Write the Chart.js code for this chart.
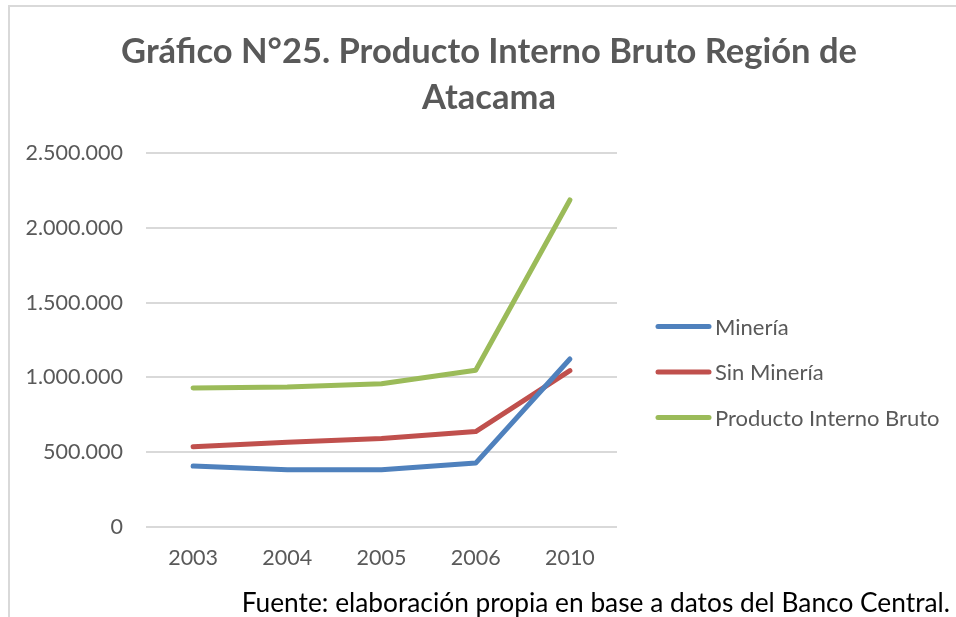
<!DOCTYPE html>
<html>
<head>
<meta charset="utf-8">
<script src="https://cdn.jsdelivr.net/npm/chart.js@4.4.1/dist/chart.umd.min.js"></script>
<style>
  html, body { margin: 0; padding: 0; background: #ffffff; }
  #wrap { position: relative; width: 956px; height: 617px; overflow: hidden; }
  #frame { position: absolute; left: 8px; top: 5px; width: 1000px; height: 700px;
           border-left: 2px solid #d9d9d9; border-top: 2px solid #d9d9d9; }
  #cv { position: absolute; left: 0; top: 0; }
  #footer { position: absolute; right: 6px; top: 589px; font-family: Lato, "Open Sans", sans-serif;
            font-size: 26.3px; color: #000; white-space: nowrap; line-height: 26px; }
</style>
</head>
<body>
<div id="wrap">
  <div id="frame"></div>
  <canvas id="cv" width="956" height="617"></canvas>
  <div id="footer">Fuente: elaboración propia en base a datos del Banco Central.</div>
</div>
<script>
const categories = ['2003', '2004', '2005', '2006', '2010'];
const mineria = [407000, 382000, 382000, 427000, 1123000];
const sinMineria = [536000, 567000, 591000, 638000, 1045000];
const pib = [929000, 936000, 958000, 1048000, 2186000];
const seriesNames = ['Minería', 'Sin Minería', 'Producto Interno Bruto'];
const titleLines = ['Gráfico N°25. Producto Interno Bruto Región de', 'Atacama'];
const yTicks = [0, 500000, 1000000, 1500000, 2000000, 2500000];

function fmt(v) {
  return String(Math.round(v)).replace(/\B(?=(\d{3})+(?!\d))/g, '.');
}

const FONT = 'Lato, "Open Sans", sans-serif';
const GREY = '#595959';

function ds(label, data, color) {
  return {
    label, data,
    borderColor: color, backgroundColor: color,
    borderWidth: 5, pointRadius: 0, pointHoverRadius: 0,
    tension: 0, borderCapStyle: 'round', borderJoinStyle: 'round', fill: false
  };
}

// Legend drawn to the right of the plot area, from the chart's own datasets.
const sideLegend = {
  id: 'sideLegend',
  afterDraw(chart) {
    const ctx = chart.ctx;
    const a = chart.chartArea;
    const x0 = a.right + 39;
    const lineW = 55;
    const gap = 45.5;
    const midY = (a.top + a.bottom) / 2 + 32;
    const n = chart.data.datasets.length;
    ctx.save();
    ctx.font = '22px ' + FONT;
    ctx.textBaseline = 'middle';
    ctx.textAlign = 'left';
    chart.data.datasets.forEach((d, i) => {
      const y = midY + (i - (n - 1) / 2) * gap;
      ctx.strokeStyle = d.borderColor;
      ctx.lineWidth = 5;
      ctx.lineCap = 'round';
      ctx.beginPath();
      ctx.moveTo(x0 + 2, y);
      ctx.lineTo(x0 + lineW - 2, y);
      ctx.stroke();
      ctx.fillStyle = GREY;
      ctx.fillText(d.label, x0 + lineW + 4, y + 1);
    });
    ctx.restore();
  }
};

new Chart(document.getElementById('cv'), {
  type: 'line',
  data: {
    labels: categories,
    datasets: [
      ds(seriesNames[0], mineria, '#4F81BD'),
      ds(seriesNames[1], sinMineria, '#C0504D'),
      ds(seriesNames[2], pib, '#9BBB59')
    ]
  },
  plugins: [sideLegend],
  options: {
    responsive: false,
    animation: false,
    devicePixelRatio: 1,
    layout: { padding: { left: 22, right: 0, top: 0, bottom: 46 } },
    plugins: {
      tooltip: { enabled: false },
      legend: { display: false },
      title: {
        display: true,
        text: titleLines,
        color: GREY,
        fullSize: true,
        font: { family: FONT, size: 34.5, weight: 'bold', lineHeight: 1.333 },
        padding: { top: 29, bottom: 32 }
      }
    },
    scales: {
      x: {
        offset: true,
        afterFit: (s) => { s.height = 44; },
        grid: { display: false, drawTicks: false },
        border: { display: false },
        ticks: { color: GREY, padding: 18, font: { family: FONT, size: 21.5 } }
      },
      y: {
        min: 0, max: 2500000,
        afterFit: (s) => { s.width = 124; },
        afterBuildTicks: (s) => { s.ticks = yTicks.map(v => ({ value: v })); },
        grid: { color: '#d9d9d9', lineWidth: 2, drawTicks: false },
        border: { display: false },
        ticks: { color: GREY, padding: 23, font: { family: FONT, size: 21.5 }, callback: (v) => fmt(v) }
      },
      legendSpace: {
        type: 'linear',
        position: 'right',
        afterFit: (s) => { s.width = 339; },
        grid: { display: false, drawTicks: false },
        border: { display: false },
        ticks: { display: false }
      }
    }
  }
});
</script>
</body>
</html>
